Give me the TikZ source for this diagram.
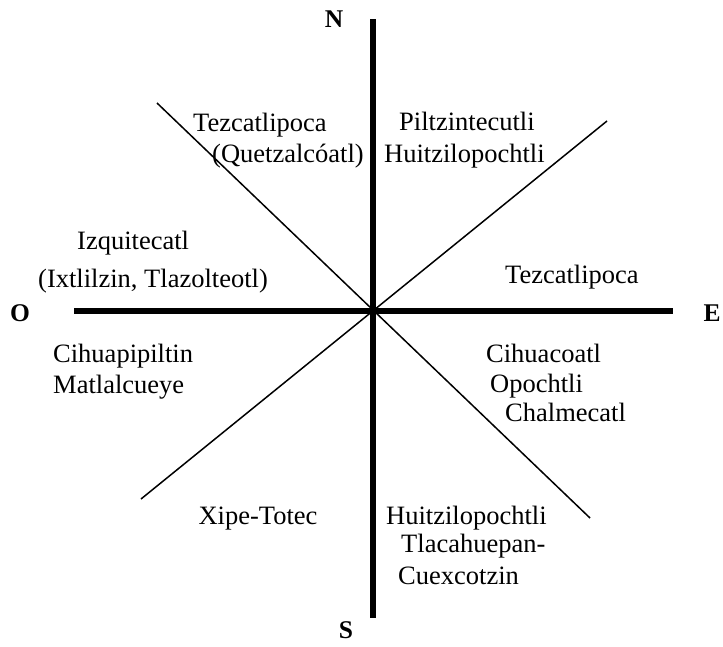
\documentclass[tikz,border=0pt]{standalone}
\usepackage{fontspec}
\setmainfont{Liberation Serif}
\usepackage{tikz}
\usetikzlibrary{positioning}

\begin{document}
\begin{tikzpicture}[x=1pt, y=-1pt,
  font=\fontsize{26.5}{30}\selectfont,
  god/.style={anchor=west, inner sep=0pt, text height=0.7em, text depth=0.22em},
  pt/.style={font=\fontsize{25.5}{30}\selectfont\bfseries, inner sep=0pt},
  axis/.style={line width=6pt},
  diag/.style={line width=1.5pt}]
\useasboundingbox (0,0) rectangle (723,646);
% centre and line ends
\coordinate (c)  at (373,311);
\coordinate (top) at (373,19);
\coordinate (bot) at (373,618);
\coordinate (lft) at (74,311);
\coordinate (rgt) at (673,311);
\coordinate (nw) at (157,103);
\coordinate (se) at (590,518);
\coordinate (ne) at (607,121);
\coordinate (sw) at (141,499);
% cardinal points
\node[pt] (n) at (334,19) {N};
\node[pt] (s) at (346,630) {S};
\node[pt] (o) at (20,313) {O};
\node[pt] (e) at (712,313) {E};
% axes
\draw[axis] (top) -- (bot);
\draw[axis] (lft) -- (rgt);
\draw[diag] (nw) -- (se);
\draw[diag] (ne) -- (sw);
% north
\node[god] (tz1) at (193,129) {Tezcatlipoca};
\node[god] (qz)  at (212,160) {(Quetzalcóatl)};
\node[god] (pil) at (399,128) {Piltzintecutli};
\node[god] (hu1) at (384,160) {Huitzilopochtli};
% west / east
\node[god] (izq) at (77,247) {Izquitecatl};
\node[god] (ixt) at (38,285) {(Ixtlilzin, Tlazolteotl)};
\node[god] (tz2) at (505,281) {Tezcatlipoca};
\node[god] (cih) at (53,360) {Cihuapipiltin};
\node[god] (mat) at (53,391) {Matlalcueye};
\node[god] (cco) at (486,360) {Cihuacoatl};
\node[god] (opo) at (490,390) {Opochtli};
\node[god] (cha) at (505,419) {Chalmecatl};
% south
\node[god, anchor=center] (xip) at (258,522) {Xipe-Totec};
\node[god] (hu2) at (386,522) {Huitzilopochtli};
\node[god] (tla) at (401,550) {Tlacahuepan-};
\node[god] (cue) at (398,582) {Cuexcotzin};
\end{tikzpicture}
\end{document}
